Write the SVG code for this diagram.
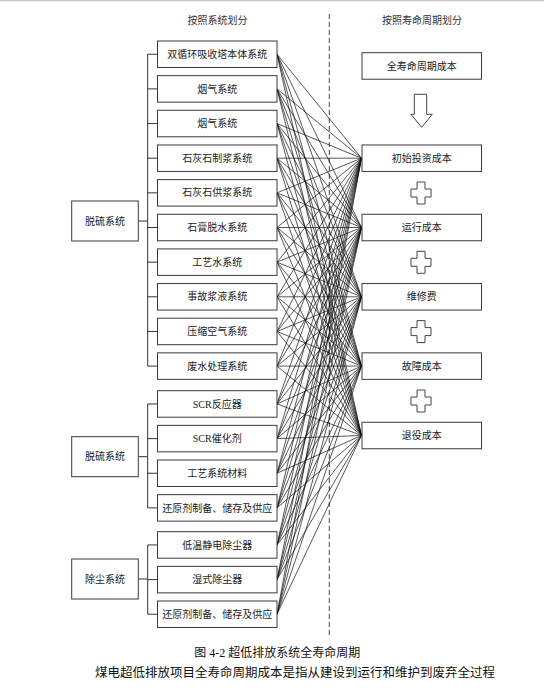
<svg xmlns="http://www.w3.org/2000/svg" width="544" height="695" viewBox="0 0 544 695">
<style>
.box{fill:#fff;stroke:#3a3a3a;stroke-width:1}
.t{font-family:"Liberation Serif","Noto Sans CJK SC",serif;font-size:10px;fill:#222;text-anchor:middle}
.h{font-family:"Liberation Serif","Noto Sans CJK SC",serif;font-size:10px;fill:#333;text-anchor:middle}
.cap{font-family:"Liberation Serif","Noto Sans CJK SC",serif;font-size:12px;fill:#111}
.tree{fill:none;stroke:#333;stroke-width:1}
.ln{fill:none;stroke:#111;stroke-width:0.7}
.sym{fill:#fff;stroke:#444;stroke-width:1}
</style>
<rect x="0" y="0" width="544" height="695" fill="#fff"/>
<line x1="0" y1="0.5" x2="544" y2="0.5" stroke="#c8c8c8" stroke-width="1.5"/>
<line x1="329.3" y1="14" x2="329.3" y2="637" stroke="#444" stroke-width="1" stroke-dasharray="5,3"/>
<text class="h" x="217.5" y="23.5">按照系统划分</text>
<text class="h" x="422" y="23.5">按照寿命周期划分</text>

<g id="connectors">
<path class="ln" d="M277,54.25L361.5,158.2M277,54.25L361.5,227.5M277,54.25L361.5,296.8M277,54.25L361.5,366.1M277,54.25L361.5,435.5"/>
<path class="ln" d="M277,88.9L361.5,158.2M277,88.9L361.5,227.5M277,88.9L361.5,296.8M277,88.9L361.5,366.1M277,88.9L361.5,435.5"/>
<path class="ln" d="M277,123.55L361.5,158.2M277,123.55L361.5,227.5M277,123.55L361.5,296.8M277,123.55L361.5,366.1M277,123.55L361.5,435.5"/>
<path class="ln" d="M277,158.2L361.5,158.2M277,158.2L361.5,227.5M277,158.2L361.5,296.8M277,158.2L361.5,366.1M277,158.2L361.5,435.5"/>
<path class="ln" d="M277,192.85L361.5,158.2M277,192.85L361.5,227.5M277,192.85L361.5,296.8M277,192.85L361.5,366.1M277,192.85L361.5,435.5"/>
<path class="ln" d="M277,227.5L361.5,158.2M277,227.5L361.5,227.5M277,227.5L361.5,296.8M277,227.5L361.5,366.1M277,227.5L361.5,435.5"/>
<path class="ln" d="M277,262.15L361.5,158.2M277,262.15L361.5,227.5M277,262.15L361.5,296.8M277,262.15L361.5,366.1M277,262.15L361.5,435.5"/>
<path class="ln" d="M277,296.8L361.5,158.2M277,296.8L361.5,227.5M277,296.8L361.5,296.8M277,296.8L361.5,366.1M277,296.8L361.5,435.5"/>
<path class="ln" d="M277,331.45L361.5,158.2M277,331.45L361.5,227.5M277,331.45L361.5,296.8M277,331.45L361.5,366.1M277,331.45L361.5,435.5"/>
<path class="ln" d="M277,366.1L361.5,158.2M277,366.1L361.5,227.5M277,366.1L361.5,296.8M277,366.1L361.5,366.1M277,366.1L361.5,435.5"/>
<path class="ln" d="M277,403.95L361.5,158.2M277,403.95L361.5,227.5M277,403.95L361.5,296.8M277,403.95L361.5,366.1M277,403.95L361.5,435.5"/>
<path class="ln" d="M277,438.6L361.5,158.2M277,438.6L361.5,227.5M277,438.6L361.5,296.8M277,438.6L361.5,366.1M277,438.6L361.5,435.5"/>
<path class="ln" d="M277,473.25L361.5,158.2M277,473.25L361.5,227.5M277,473.25L361.5,296.8M277,473.25L361.5,366.1M277,473.25L361.5,435.5"/>
<path class="ln" d="M277,507.9L361.5,158.2M277,507.9L361.5,227.5M277,507.9L361.5,296.8M277,507.9L361.5,366.1M277,507.9L361.5,435.5"/>
<path class="ln" d="M277,544.95L361.5,158.2M277,544.95L361.5,227.5M277,544.95L361.5,296.8M277,544.95L361.5,366.1M277,544.95L361.5,435.5"/>
<path class="ln" d="M277,579.6L361.5,158.2M277,579.6L361.5,227.5M277,579.6L361.5,296.8M277,579.6L361.5,366.1M277,579.6L361.5,435.5"/>
<path class="ln" d="M277,614.25L361.5,158.2M277,614.25L361.5,227.5M277,614.25L361.5,296.8M277,614.25L361.5,366.1M277,614.25L361.5,435.5"/>
<!-- tree brackets -->
<path class="tree" d="M138.3,221H147.7M147.7,54.25V366.1M147.7,54.25H157.5M147.7,88.9H157.5M147.7,123.55H157.5M147.7,158.2H157.5M147.7,192.85H157.5M147.7,227.5H157.5M147.7,262.15H157.5M147.7,296.8H157.5M147.7,331.45H157.5M147.7,366.1H157.5"/>
<path class="tree" d="M138.3,456.7H147.7M147.7,403.95V507.9M147.7,403.95H157.5M147.7,438.6H157.5M147.7,473.25H157.5M147.7,507.9H157.5"/>
<path class="tree" d="M138.3,579H147.7M147.7,544.95V614.25M147.7,544.95H157.5M147.7,579.6H157.5M147.7,614.25H157.5"/>
</g>

<g id="g-desulf1"><rect class="box" x="71.7" y="201" width="66.6" height="40"/><text class="t" x="105" y="224.6">脱硫系统</text></g>
<g id="g-desulf2"><rect class="box" x="71.7" y="436.7" width="66.6" height="40"/><text class="t" x="105" y="460.3">脱硫系统</text></g>
<g id="g-dust"><rect class="box" x="71.7" y="559" width="66.6" height="40"/><text class="t" x="105" y="582.6">除尘系统</text></g>

<g id="n1"><rect class="box" x="157.5" y="41" width="119.5" height="26.5"/><text class="t" x="217.25" y="57.85">双循环吸收塔本体系统</text></g>
<g id="n2"><rect class="box" x="157.5" y="75.65" width="119.5" height="26.5"/><text class="t" x="217.25" y="92.5">烟气系统</text></g>
<g id="n3"><rect class="box" x="157.5" y="110.3" width="119.5" height="26.5"/><text class="t" x="217.25" y="127.15">烟气系统</text></g>
<g id="n4"><rect class="box" x="157.5" y="144.95" width="119.5" height="26.5"/><text class="t" x="217.25" y="161.8">石灰石制浆系统</text></g>
<g id="n5"><rect class="box" x="157.5" y="179.6" width="119.5" height="26.5"/><text class="t" x="217.25" y="196.45">石灰石供浆系统</text></g>
<g id="n6"><rect class="box" x="157.5" y="214.25" width="119.5" height="26.5"/><text class="t" x="217.25" y="231.1">石膏脱水系统</text></g>
<g id="n7"><rect class="box" x="157.5" y="248.9" width="119.5" height="26.5"/><text class="t" x="217.25" y="265.75">工艺水系统</text></g>
<g id="n8"><rect class="box" x="157.5" y="283.55" width="119.5" height="26.5"/><text class="t" x="217.25" y="300.4">事故浆液系统</text></g>
<g id="n9"><rect class="box" x="157.5" y="318.2" width="119.5" height="26.5"/><text class="t" x="217.25" y="335.05">压缩空气系统</text></g>
<g id="n10"><rect class="box" x="157.5" y="352.85" width="119.5" height="26.5"/><text class="t" x="217.25" y="369.7">废水处理系统</text></g>
<g id="n11"><rect class="box" x="157.5" y="390.7" width="119.5" height="26.5"/><text class="t" x="217.25" y="407.55">SCR反应器</text></g>
<g id="n12"><rect class="box" x="157.5" y="425.35" width="119.5" height="26.5"/><text class="t" x="217.25" y="442.2">SCR催化剂</text></g>
<g id="n13"><rect class="box" x="157.5" y="460" width="119.5" height="26.5"/><text class="t" x="217.25" y="476.85">工艺系统材料</text></g>
<g id="n14"><rect class="box" x="157.5" y="494.65" width="119.5" height="26.5"/><text class="t" x="217.25" y="511.5">还原剂制备、储存及供应</text></g>
<g id="n15"><rect class="box" x="157.5" y="531.7" width="119.5" height="26.5"/><text class="t" x="217.25" y="548.55">低温静电除尘器</text></g>
<g id="n16"><rect class="box" x="157.5" y="566.35" width="119.5" height="26.5"/><text class="t" x="217.25" y="583.2">湿式除尘器</text></g>
<g id="n17"><rect class="box" x="157.5" y="601" width="119.5" height="26.5"/><text class="t" x="217.25" y="617.85">还原剂制备、储存及供应</text></g>

<g id="r0"><rect class="box" x="362" y="52.7" width="119.5" height="26.5"/><text class="t" x="421.75" y="69.55">全寿命周期成本</text></g>
<g id="arrow"><path class="sym" d="M414.3,94.3H426.7V114.3H432.3L421.7,127.3L411,114.3H414.3Z"/></g>
<g id="r1"><rect class="box" x="362" y="144.95" width="119.5" height="26.5"/><text class="t" x="421.75" y="161.8">初始投资成本</text></g>
<g id="r2"><rect class="box" x="362" y="214.25" width="119.5" height="26.5"/><text class="t" x="421.75" y="231.1">运行成本</text></g>
<g id="r3"><rect class="box" x="362" y="283.55" width="119.5" height="26.5"/><text class="t" x="421.75" y="300.4">维修费</text></g>
<g id="r4"><rect class="box" x="362" y="352.85" width="119.5" height="26.5"/><text class="t" x="421.75" y="369.7">故障成本</text></g>
<g id="r5"><rect class="box" x="362" y="422.25" width="119.5" height="26.5"/><text class="t" x="421.75" y="439.1">退役成本</text></g>
<defs><path id="plus" d="M-4,-11H4V-4H10V4H4V11H-4V4H-10V-4H-4Z"/></defs>
<g id="plus1"><use href="#plus" class="sym" x="421" y="193"/></g>
<g id="plus2"><use href="#plus" class="sym" x="421" y="262.3"/></g>
<g id="plus3"><use href="#plus" class="sym" x="421" y="331.6"/></g>
<g id="plus4"><use href="#plus" class="sym" x="421" y="401"/></g>

<text class="cap" x="194.3" y="656.8">图 4-2  超低排放系统全寿命周期</text>
<text class="cap" x="95" y="677.3" style="font-size:12.5px">煤电超低排放项目全寿命周期成本是指从建设到运行和维护到废弃全过程</text>
</svg>
